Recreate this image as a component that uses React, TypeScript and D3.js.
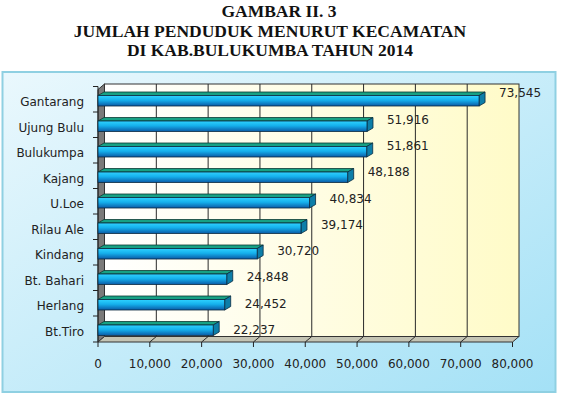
import React from "react";
import * as d3 from "d3";

const categories = ["Gantarang", "Ujung Bulu", "Bulukumpa", "Kajang", "U.Loe", "Rilau Ale", "Kindang", "Bt. Bahari", "Herlang", "Bt.Tiro"];
const population = [73545, 51916, 51861, 48188, 40834, 39174, 30720, 24848, 24452, 22237];
const xTicks = [0, 10000, 20000, 30000, 40000, 50000, 60000, 70000, 80000];
const titleLines = ["GAMBAR II. 3", "JUMLAH PENDUDUK MENURUT KECAMATAN", "DI KAB.BULUKUMBA TAHUN 2014"];

const W = 562;
const H = 394;
const FONT = "'DejaVu Sans', sans-serif";

export default function App() {
  const x = d3.scaleLinear().domain([0, 80000]).range([98, 512.5]);
  const y = d3.scaleBand<string>().domain(categories).range([86.5, 341.5]).padding(0);
  const yLabel = d3.scaleBand<string>().domain(categories).range([80, 343]).padding(0);
  const fmt = d3.format(",");

  // wall depth offsets
  const wdx = 6.5;
  const wdy = 5.5;
  const floorY = 342;
  const wallTop = 84;
  const x0 = x(0);
  const x1 = x(80000);

  // bar geometry
  const bdx = 6;
  const bdy = 3.5;
  const barOff = 9;
  const barH = 10.5;

  const pts = (p: number[][]) => p.map((q) => q.join(",")).join(" ");

  return (
    <div style={{ position: "absolute", left: 0, top: 0 }}>
      <svg width={W} height={H} style={{ display: "block" }}>
        <defs>
          <linearGradient id="bg" x1="0" y1="0" x2="1" y2="1">
            <stop offset="0" stopColor="#eaf8fd" />
            <stop offset="1" stopColor="#a4e1f6" />
          </linearGradient>
          <linearGradient id="wall" x1="0" y1="0" x2="1" y2="0">
            <stop offset="0" stopColor="#ffffff" />
            <stop offset="1" stopColor="#fffbc8" />
          </linearGradient>
          <linearGradient id="barFront" x1="0" y1="0" x2="0" y2="1">
            <stop offset="0" stopColor="#2fd2ff" />
            <stop offset="0.45" stopColor="#15b0ec" />
            <stop offset="1" stopColor="#0a5aa6" />
          </linearGradient>
        </defs>

        <rect x={0} y={0} width={W} height={H} fill="#ffffff" />

        {titleLines.map((t, i) => (
          <text
            key={t}
            x={i === 0 ? 279 : 270}
            y={17 + i * 19.7}
            textAnchor="middle"
            fontFamily="'Liberation Serif', 'Times New Roman', serif"
            fontWeight="bold"
            fontSize={17.5}
            fill="#111"
          >
            {t}
          </text>
        ))}

        {/* chart area */}
        <rect x={2.5} y={72} width={553} height={320} fill="url(#bg)" stroke="#8fd0e2" strokeWidth={2} />

        {/* back wall */}
        <rect x={x0 + wdx} y={wallTop} width={x1 - x0} height={floorY - wdy - wallTop} fill="url(#wall)" stroke="#333" strokeWidth={1} />
        {/* side wall */}
        <polygon
          points={pts([
            [x0, wallTop + wdy],
            [x0 + wdx, wallTop],
            [x0 + wdx, floorY - wdy],
            [x0, floorY],
          ])}
          fill="#7a7a7a"
          stroke="#333"
          strokeWidth={1}
        />
        {/* floor */}
        <polygon
          points={pts([
            [x0, floorY],
            [x1, floorY],
            [x1 + wdx, floorY - wdy],
            [x0 + wdx, floorY - wdy],
          ])}
          fill="#c4c4b4"
          stroke="#333"
          strokeWidth={1}
        />

        {/* gridlines */}
        {xTicks.slice(1, -1).map((t) => (
          <polyline
            key={t}
            points={pts([
              [x(t) + wdx, wallTop],
              [x(t) + wdx, floorY - wdy],
              [x(t), floorY],
            ])}
            fill="none"
            stroke="#2a2a2a"
            strokeWidth={1}
          />
        ))}

        {/* x ticks and labels */}
        {xTicks.map((t) => (
          <g key={t}>
            <line x1={x(t)} x2={x(t)} y1={floorY} y2={floorY + 5} stroke="#222" strokeWidth={1} />
            <text x={x(t)} y={364} dy="0.35em" textAnchor="middle" fontFamily={FONT} fontSize={12} fill="#222">
              {fmt(t)}
            </text>
          </g>
        ))}

        {/* y axis line & ticks */}
        <line x1={x0} x2={x0} y1={y.range()[0]} y2={floorY} stroke="#222" strokeWidth={1} />
        {categories.map((c) => (
          <line key={c} x1={x0 - 5} x2={x0} y1={y(c)!} y2={y(c)!} stroke="#222" strokeWidth={1} />
        ))}
        <line x1={x0 - 5} x2={x0} y1={floorY} y2={floorY} stroke="#222" strokeWidth={1} />

        {/* bars */}
        {categories.map((c, i) => {
          const v = population[i];
          const xs = x0;
          const xe = x(v);
          const yt = y(c)! + barOff;
          return (
            <g key={c}>
              <polygon
                points={pts([
                  [xs, yt],
                  [xe, yt],
                  [xe + bdx, yt - bdy],
                  [xs + bdx, yt - bdy],
                ])}
                fill="#17a184"
                stroke="#0b3a33"
                strokeWidth={0.8}
              />
              <polygon
                points={pts([
                  [xe, yt],
                  [xe + bdx, yt - bdy],
                  [xe + bdx, yt + barH - bdy],
                  [xe, yt + barH],
                ])}
                fill="#0d7ea8"
                stroke="#0a2a40"
                strokeWidth={0.8}
              />
              <rect x={xs} y={yt} width={xe - xs} height={barH} fill="url(#barFront)" stroke="#0a2a40" strokeWidth={0.8} />
            </g>
          );
        })}

        {/* category labels */}
        {categories.map((c) => (
          <text
            key={c}
            x={84}
            y={y(c)! + barOff + barH / 2 + 1.5}
            dy="0.35em"
            textAnchor="end"
            fontFamily={FONT}
            fontSize={12}
            fill="#222"
          >
            {c}
          </text>
        ))}

        {/* value labels */}
        {categories.map((c, i) => (
          <text
            key={c}
            x={x(population[i]) + 20}
            y={yLabel(c)! + yLabel.bandwidth() / 2}
            dy="0.35em"
            textAnchor="start"
            fontFamily={FONT}
            fontSize={12}
            fill="#222"
          >
            {fmt(population[i])}
          </text>
        ))}
      </svg>
    </div>
  );
}
